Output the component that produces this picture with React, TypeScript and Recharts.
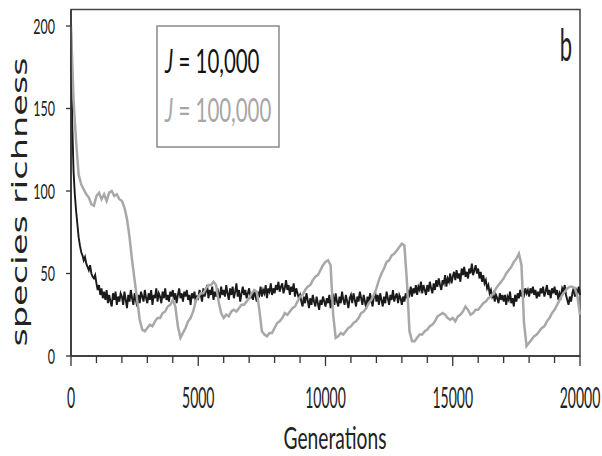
import React from 'react';
import { LineChart, Line, XAxis, YAxis, ReferenceArea } from 'recharts';

// J = 10,000: species richness every 50 generations (0 .. 20000)
const richnessJ10k = [
  200, 140, 112, 98, 88, 80, 72, 67, 63, 61, 58, 60, 56, 54, 52, 55, 50, 48, 47, 49,
  44, 40, 43, 37, 41, 35, 39, 34, 40, 32, 37, 33, 30, 38, 34, 39, 31, 36, 33, 38,
  36, 31, 39, 34, 29, 37, 33, 40, 35, 31, 38, 34, 30, 37, 32, 39, 36, 33, 40, 35,
  32, 38, 34, 40, 31, 37, 35, 41, 33, 38, 36, 32, 39, 35, 41, 34, 37, 33, 39, 36,
  40, 34, 38, 32, 37, 41, 35, 38, 33, 39, 36, 40, 34, 37, 31, 38, 35, 39, 33, 36,
  35, 40, 37, 33, 41, 36, 39, 43, 35, 40, 37, 42, 34, 39, 36, 41, 38, 35, 42, 37,
  40, 36, 43, 38, 34, 41, 37, 42, 35, 39, 44, 36, 40, 33, 38, 42, 37, 40, 35, 38,
  41, 35, 38, 34, 40, 36, 33, 39, 37, 42, 36, 40, 38, 43, 35, 41, 39, 44, 37, 41,
  38, 43, 40, 45, 39, 42, 44, 38, 41, 46, 40, 43, 37, 42, 39, 44, 36, 41, 38, 35,
  37, 33, 30, 36, 32, 38, 34, 29, 35, 31, 37, 33, 30, 36, 32, 28, 34, 31, 36, 33,
  30, 35, 32, 37, 29, 34, 36, 31, 38, 33, 30, 36, 32, 39, 34, 31, 37, 33, 29, 35,
  37, 32, 38, 34, 30, 36, 33, 39, 35, 31, 37, 33, 29, 36, 32, 38, 34, 30, 36, 39,
  33, 37, 31, 38, 34, 30, 36, 32, 39, 35, 31, 37, 34, 40, 33, 36, 38, 32, 37, 35,
  31, 36, 33, 38, 35, 39, 37, 42, 36, 41, 38, 43, 37, 42, 40, 45, 38, 43, 40, 37,
  43, 39, 45, 41, 38, 44, 40, 46, 42, 47, 43, 40, 46, 44, 49, 42, 47, 45, 50, 44,
  48, 51, 46, 52, 47, 50, 45, 53, 49, 54, 48, 51, 47, 53, 50, 56, 49, 52, 55, 50,
  53, 47, 51, 45, 49, 44, 46, 41, 43, 38, 40, 36, 38, 33, 37, 35, 32, 38, 34, 37,
  33, 37, 31, 36, 34, 39, 32, 35, 30, 37, 33, 38, 35, 40, 36, 39, 37, 41, 38, 40,
  36, 41, 38, 42, 37, 40, 35, 39, 36, 41, 38, 42, 36, 39, 43, 37, 40, 35, 41, 38,
  42, 37, 40, 34, 38, 36, 41, 39, 43, 37, 34, 31, 36, 33, 38, 41, 36, 40, 38, 42,
  37,
];

// J = 100,000: species richness every 100 generations (0 .. 20000)
const richnessJ100k = [
  200, 155, 130, 110, 104, 101, 98, 96, 92, 91,
  97, 99, 95, 98, 94, 99, 100, 97, 98, 95,
  94, 90, 83, 72, 58, 46, 34, 22, 16, 15,
  17, 19, 18, 21, 23, 23, 26, 27, 30, 31,
  34, 30, 18, 11, 14, 17, 21, 23, 27, 33,
  36, 38, 38, 41, 43, 43, 45, 43, 33, 26,
  23, 25, 24, 27, 28, 27, 29, 31, 31, 33,
  35, 38, 40, 39, 28, 15, 13, 12, 14, 14,
  17, 20, 21, 23, 26, 25, 27, 29, 30, 33,
  36, 37, 40, 42, 43, 46, 48, 49, 52, 55,
  57, 58, 55, 25, 11, 12, 14, 13, 15, 17,
  18, 20, 21, 23, 26, 27, 29, 32, 34, 37,
  41, 46, 50, 53, 57, 58, 61, 62, 64, 66,
  68, 67, 45, 15, 9, 9, 11, 13, 13, 15,
  16, 18, 19, 21, 24, 25, 26, 25, 23, 22,
  23, 21, 24, 25, 27, 30, 28, 25, 26, 28,
  28, 30, 32, 33, 35, 36, 38, 41, 43, 45,
  47, 50, 52, 54, 57, 59, 62, 55, 20, 6,
  8, 10, 12, 13, 15, 17, 18, 21, 23, 26,
  28, 31, 34, 37, 39, 41, 42, 42, 41, 36,
  25,
];

const xTicks = [
  0, 1000, 2000, 3000, 4000, 5000, 6000, 7000, 8000, 9000, 10000,
  11000, 12000, 13000, 14000, 15000, 16000, 17000, 18000, 19000, 20000,
];
const xLabelled = [0, 5000, 10000, 15000, 20000];
const yTicks = [0, 50, 100, 150, 200];

const smallData = richnessJ10k.map((v, i) => ({ gen: i * 50, small: v }));
const largeData = richnessJ100k.map((v, i) => ({ gen: i * 100, large: v }));

const FONT = "Lato, 'Open Sans', sans-serif";
const AXIS = '#333';

const XTick = ({ x, y, payload }: any) => {
  const major = xLabelled.includes(payload.value);
  return (
    <g>
      <line x1={x} y1={y} x2={x} y2={y + (major ? 10 : 7)} stroke={AXIS} strokeWidth={1.3} />
      {major && (
        <text
          transform={`translate(${x},${y + 52}) scale(0.5,1)`}
          textAnchor="middle"
          fontSize={28}
          fontFamily={FONT}
          fill="#222"
        >
          {payload.value}
        </text>
      )}
    </g>
  );
};

const YTick = ({ x, y, payload }: any) => (
  <text
    transform={`translate(${x - 11},${y + 7.5}) scale(0.58,1)`}
    textAnchor="end"
    fontSize={21.5}
    fontFamily={FONT}
    fill="#222"
  >
    {payload.value}
  </text>
);

export default function App() {
  return (
    <div style={{ position: 'absolute', left: 0, top: 0, width: 602, height: 456, background: '#fff' }}>
      <LineChart width={602} height={456} margin={{ top: 9.5, right: 22, bottom: 0, left: 0 }}>
        <XAxis
          dataKey="gen"
          type="number"
          domain={[0, 20000]}
          ticks={xTicks}
          interval={0}
          tickSize={0}
          tickMargin={0}
          tick={<XTick />}
          height={100}
          axisLine={{ stroke: AXIS, strokeWidth: 1.5 }}
          allowDuplicatedCategory={false}
        />
        <YAxis
          domain={[0, 210]}
          ticks={yTicks}
          width={71}
          tickSize={5}
          tickMargin={0}
          tick={<YTick />}
          tickLine={{ stroke: AXIS, strokeWidth: 1.3 }}
          axisLine={{ stroke: AXIS, strokeWidth: 1.5 }}
        />
        <ReferenceArea x1={0} x2={20000} y1={0} y2={210} fill="none" stroke="#444" strokeWidth={1.5} />
        <Line
          data={smallData}
          type="linear"
          dataKey="small"
          stroke="#1a1a1a"
          strokeWidth={1.9}
          dot={false}
          isAnimationActive={false}
        />
        <Line
          data={largeData}
          type="linear"
          dataKey="large"
          stroke="#a8a8a8"
          strokeWidth={2.5}
          dot={false}
          isAnimationActive={false}
        />
        <text
          transform="translate(27,202) rotate(-90) scale(1.6,1)"
          textAnchor="middle"
          fontSize={22}
          fontFamily="'DejaVu Sans', Verdana, sans-serif"
          fill="#222"
        >
          species richness
        </text>
        <text
          transform="translate(335,449) scale(0.62,1)"
          textAnchor="middle"
          fontSize={31}
          fontFamily={FONT}
          fill="#222"
        >
          Generations
        </text>
        <text
          transform="translate(566,61) scale(0.5,1)"
          textAnchor="middle"
          fontSize={44}
          fontFamily={FONT}
          fill="#222"
        >
          b
        </text>
        <rect x={157} y={26} width={122} height={121} fill="#fff" stroke="#8a8a8a" strokeWidth={1.5} />
        <text transform="translate(165,73) scale(0.62,1)" fontSize={33} fontFamily={FONT} fill="#111">
          <tspan fontStyle="italic">J</tspan> = 10,000
        </text>
        <text transform="translate(165,122) scale(0.62,1)" fontSize={33} fontFamily={FONT} fill="#a6a6a6">
          <tspan fontStyle="italic">J</tspan> = 100,000
        </text>
      </LineChart>
    </div>
  );
}
